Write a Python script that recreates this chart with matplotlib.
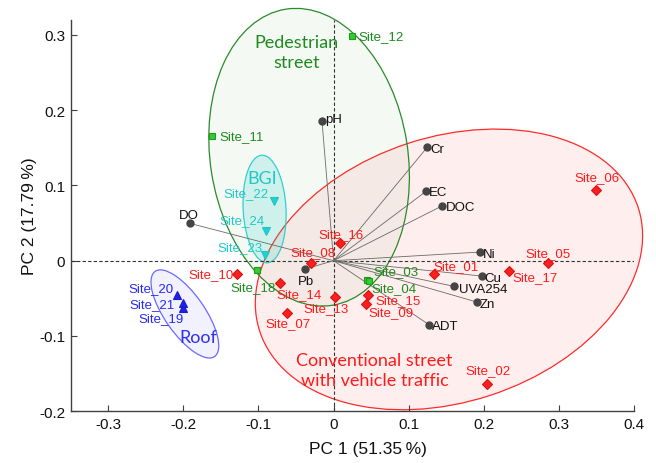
"""PCA biplot of stormwater sites and water-quality variables."""
import matplotlib
matplotlib.use("Agg")
import matplotlib.pyplot as plt
from matplotlib.patches import Ellipse


# site scores (PC1, PC2) and their land-use group
site_names = ["Site_01", "Site_02", "Site_03", "Site_04", "Site_05", "Site_06",
              "Site_07", "Site_08", "Site_09", "Site_10", "Site_11", "Site_12",
              "Site_13", "Site_14", "Site_15", "Site_16", "Site_17", "Site_18",
              "Site_19", "Site_20", "Site_21", "Site_22", "Site_23", "Site_24"]
site_pc1 = [0.134, 0.204, 0.045, 0.047, 0.286, 0.349,
            -0.0625, -0.030, 0.043, -0.128, -0.162, 0.025,
            0.002, -0.071, 0.046, 0.008, 0.234, -0.102,
            -0.200, -0.208, -0.201, -0.079, -0.091, -0.0895]
site_pc2 = [-0.018, -0.164, -0.025, -0.027, -0.003, 0.094,
            -0.070, -0.003, -0.057, -0.018, 0.166, 0.299,
            -0.048, -0.030, -0.046, 0.024, -0.014, -0.0125,
            -0.0625, -0.046, -0.056, 0.079, 0.007, 0.040]
site_group = ["conv", "conv", "ped", "ped", "conv", "conv",
              "conv", "conv", "conv", "conv", "ped", "ped",
              "conv", "conv", "conv", "conv", "conv", "ped",
              "roof", "roof", "roof", "bgi", "bgi", "bgi"]

# variable loadings
var_names = ["pH", "Cr", "EC", "DOC", "Ni", "Cu", "UVA254", "Zn", "ADT", "Pb", "DO"]
var_pc1 = [-0.0155, 0.125, 0.123, 0.145, 0.1955, 0.198, 0.160, 0.191, 0.127, -0.038, -0.1915]
var_pc2 = [0.186, 0.151, 0.092, 0.073, 0.0115, -0.0205, -0.034, -0.055, -0.085, -0.011, 0.0496]

# group styles
GROUPS = {
    "conv": dict(marker="D", ms=5.5, face="#f52020", edge="#e01010", text="#ff1a1a"),
    "ped": dict(marker="s", ms=5.0, face="#33cc33", edge="#1f9a1f", text="#1f8a1f"),
    "bgi": dict(marker="v", ms=6.0, face="#22d0d0", edge="#22c4c4", text="#22c8c8"),
    "roof": dict(marker="^", ms=6.0, face="#2020e0", edge="#1a1ad0", text="#2828f0"),
}

# label offsets in pixels (dx, dy up) from each marker
SITE_OFFSETS = {
    "Site_01": (22, 8), "Site_02": (1, 14), "Site_03": (29, 8), "Site_04": (25, -7),
    "Site_05": (0, 10), "Site_06": (1, 13), "Site_07": (1, -10), "Site_08": (2, 11),
    "Site_09": (25, -8), "Site_10": (-26, 0), "Site_11": (30, 0), "Site_12": (29, -1),
    "Site_13": (-9, -11), "Site_14": (19, -11), "Site_15": (30, -5), "Site_16": (1, 9),
    "Site_17": (26, -6), "Site_18": (-4, -17), "Site_19": (-22, -10), "Site_20": (-26, 7),
    "Site_21": (-31, -1), "Site_22": (-28, 8), "Site_23": (-25, 8), "Site_24": (-24, 10),
}
VAR_OFFSETS = {
    "pH": (12, 2), "Cr": (10, -2), "EC": (12, -1), "DOC": (18, -1), "Ni": (9, -2),
    "Cu": (11, -2), "UVA254": (29, -3), "Zn": (10, -2), "ADT": (16, -1),
    "Pb": (1, -12), "DO": (-1, 8),
}

FONT = "Liberation Sans"
REGION_FONT = "Lato"


def main():
    plt.rcParams["font.family"] = FONT
    plt.rcParams["axes.unicode_minus"] = False

    fig = plt.figure(figsize=(6.56, 4.64), dpi=100)
    ax = fig.add_axes([0.1078, 0.1114, 0.8587, 0.844])

    # group ellipses
    ells = [
        ((0.1536, -0.0116), 0.530, 0.352, 18, "#ff2a2a", (1.0, 0.1, 0.1, 0.07)),
        ((-0.0326, 0.1374), 0.263, 0.398, 9, "#2a8a2a", (0.2, 0.55, 0.2, 0.05)),
        ((-0.0919, 0.0686), 0.057, 0.143, 3, "#30d0d0", (0.1, 0.8, 0.75, 0.17)),
        ((-0.198, -0.0707), 0.138, 0.053, -55, "#6a6aff", (0.3, 0.3, 1.0, 0.08)),
    ]
    for center, w, h, ang, ec, fc in ells:
        ax.add_patch(Ellipse(center, w, h, angle=ang, facecolor=fc,
                             edgecolor=ec, linewidth=0.9, clip_on=False, zorder=1))

    ax.axhline(0, color="#333333", linestyle="--", linewidth=0.8, dashes=(3, 2), zorder=2)
    ax.axvline(0, color="#333333", linestyle="--", linewidth=0.8, dashes=(3, 2), zorder=2)

    # loading vectors
    for name, x, y in zip(var_names, var_pc1, var_pc2):
        ax.plot([0, x], [0, y], color="#6a6a6a", linewidth=0.6, zorder=3)
        ax.plot(x, y, "o", color="#454545", ms=5, zorder=4)
        dx, dy = VAR_OFFSETS[name]
        ax.annotate(name, (x, y), xytext=(dx, dy), textcoords="offset pixels",
                    ha="center", va="center", fontsize=9.5, color="#111111", zorder=6)

    # site scores
    for name, x, y, g in zip(site_names, site_pc1, site_pc2, site_group):
        st = GROUPS[g]
        ax.plot(x, y, st["marker"], ms=st["ms"], markerfacecolor=st["face"],
                markeredgecolor=st["edge"], markeredgewidth=0.8, zorder=5)
        dx, dy = SITE_OFFSETS[name]
        ax.annotate(name, (x, y), xytext=(dx, dy), textcoords="offset pixels",
                    ha="center", va="center", fontsize=9.5, color=st["text"], zorder=6)

    # region labels
    ax.text(-0.0489, 0.2766, "Pedestrian\nstreet", color="#1f8a1f", fontsize=13,
            family=REGION_FONT, ha="center", va="center", linespacing=1.3)
    ax.text(0.0544, -0.1446, "Conventional street\nwith vehicle traffic", color="#ff1a1a",
            fontsize=13, family=REGION_FONT, ha="center", va="center", linespacing=1.3)
    ax.text(-0.0945, 0.1104, "BGI", color="#22c8c8", fontsize=13,
            family=REGION_FONT, ha="center", va="center")
    ax.text(-0.1795, -0.101, "Roof", color="#3030f0", fontsize=13,
            family=REGION_FONT, ha="center", va="center")

    ax.set_xlim(-0.35, 0.4)
    ax.set_ylim(-0.2, 0.32)
    xt = [-0.3, -0.2, -0.1, 0, 0.1, 0.2, 0.3, 0.4]
    yt = [-0.2, -0.1, 0, 0.1, 0.2, 0.3]
    ax.set_xticks(xt, ["-0.3", "-0.2", "-0.1", "0", "0.1", "0.2", "0.3", "0.4"])
    ax.set_yticks(yt, ["-0.2", "-0.1", "0", "0.1", "0.2", "0.3"])
    ax.tick_params(direction="in", length=4, width=0.8, labelsize=11,
                   colors="#404040", labelcolor="#111111", pad=4)
    for side in ("top", "right"):
        ax.spines[side].set_visible(False)
    for side in ("left", "bottom"):
        ax.spines[side].set_color("#404040")
        ax.spines[side].set_linewidth(1.0)

    ax.set_xlabel("PC 1 (51.35\u2009%)", fontsize=12.5, color="#111111")
    ax.set_ylabel("PC 2 (17.79\u2009%)", fontsize=12.5, color="#111111")
    ax.xaxis.set_label_coords(0.527, -0.076)
    ax.yaxis.set_label_coords(-0.060, 0.5)

    fig.savefig("out.png", dpi=100)


if __name__ == "__main__":
    main()
